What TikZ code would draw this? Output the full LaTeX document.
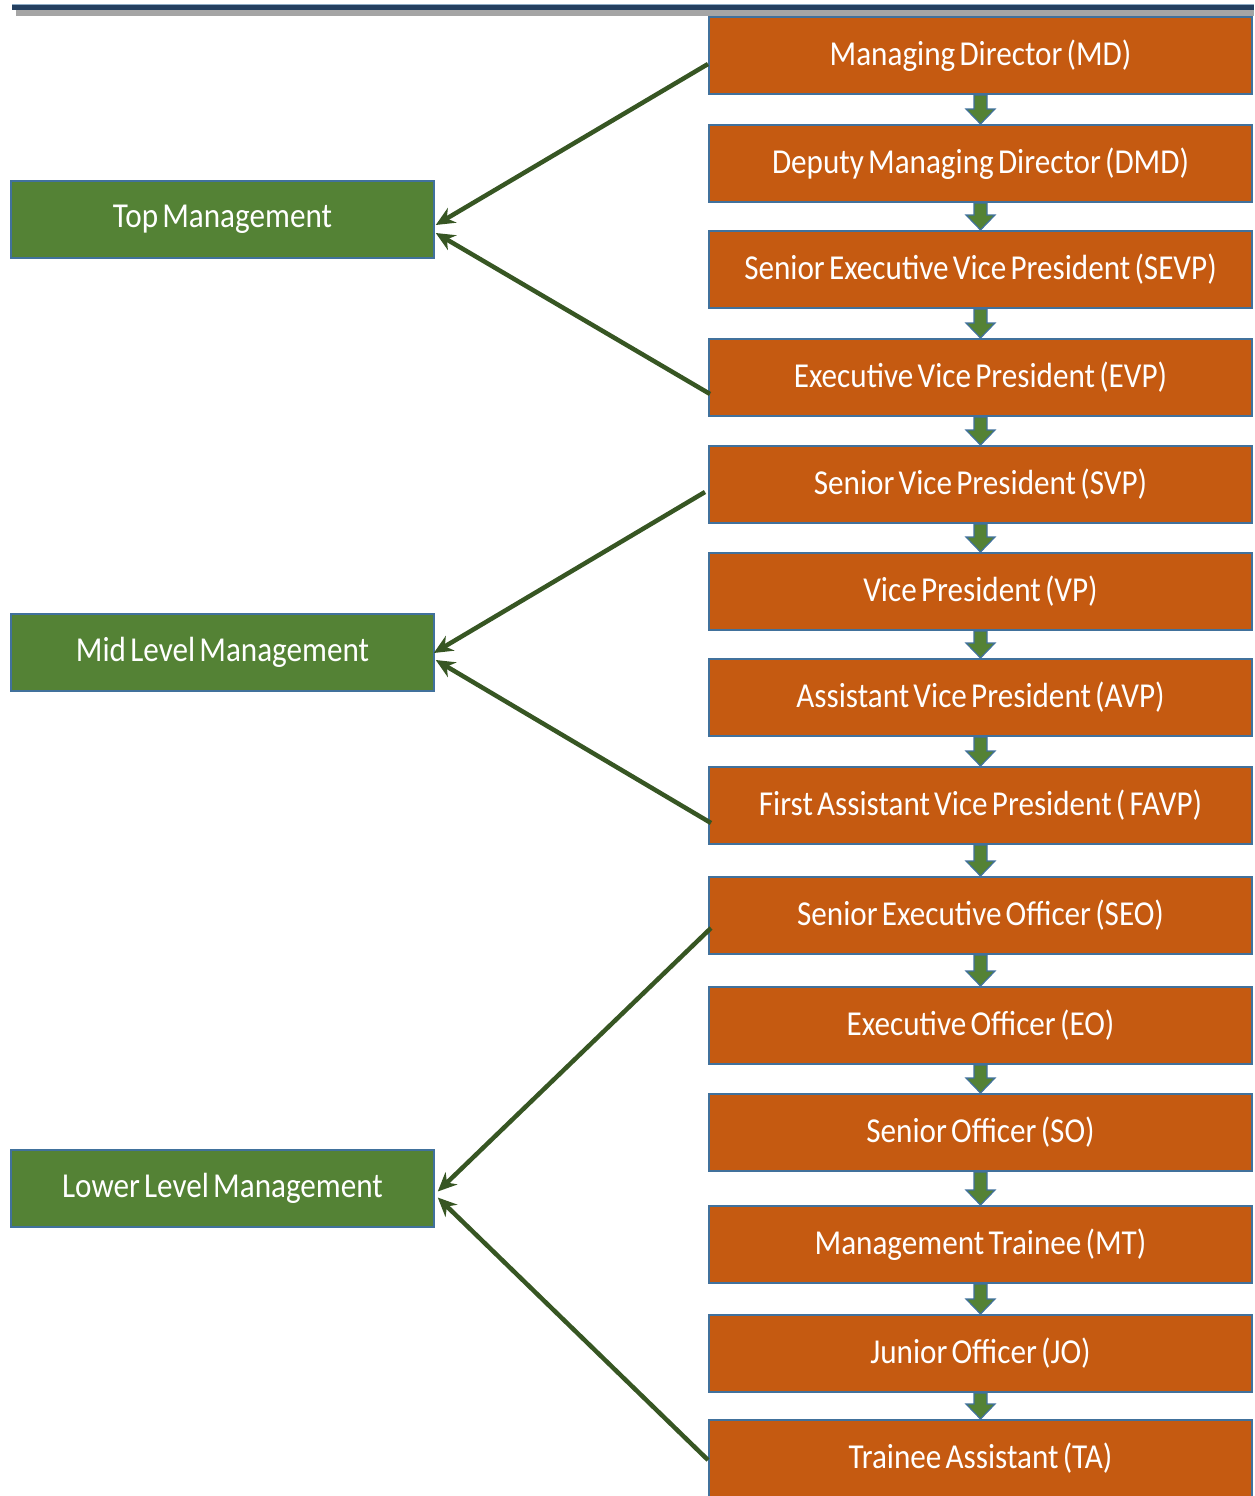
\documentclass[tikz,border=0pt]{standalone}
\usepackage{fontspec}
\setmainfont[FakeStretch=0.89,WordSpace=0.6]{Carlito}
\usetikzlibrary{arrows.meta,calc}
\definecolor{orangefill}{HTML}{C55A11}
\definecolor{boxborder}{HTML}{41719C}
\definecolor{greenfill}{HTML}{548235}
\definecolor{conngreen}{HTML}{375623}
\definecolor{navyline}{HTML}{243F60}
\definecolor{shadowgrey}{HTML}{A5A5A5}
\newcommand\blockarrow[2]{%
  \path[blk] let \p1=(#1.south), \p2=(#2.north) in
    (\x1-6.5pt,\y1) -- (\x1-6.5pt,\y2+15pt) -- (\x1-14.5pt,\y2+15pt) -- (\x1,\y2)
    -- (\x1+14.5pt,\y2+15pt) -- (\x1+6.5pt,\y2+15pt) -- (\x1+6.5pt,\y1) -- cycle;}
\begin{document}
\begin{tikzpicture}[x=1pt,y=-1pt,
  rank/.style={draw=boxborder, line width=2pt, fill=orangefill, text=white,
    minimum width=543pt, minimum height=77pt, inner sep=0pt,
    font=\fontsize{35}{40}\selectfont},
  level/.style={draw=boxborder, line width=1.5pt, fill=greenfill, text=white,
    minimum width=423pt, minimum height=77pt, inner sep=0pt,
    font=\fontsize{35}{40}\selectfont},
  conn/.style={draw=conngreen, line width=4.5pt, -{Stealth[length=19pt,width=17pt]}},
  blk/.style={fill=greenfill, draw=boxborder, line width=1.2pt}]
\useasboundingbox (0,0) rectangle (1254,1496);
% top rule
\fill[shadowgrey] (16,10) rectangle (1254,16);
\fill[navyline] (12,4) rectangle (1254,10);
\draw[boxborder!60, line width=0.8pt] (12,4) -- (1254,4);
% rank boxes
\node[rank] (md)   at (980.5,55.5)   {Managing Director (MD)};
\node[rank] (dmd)  at (980.5,163.5)  {Deputy Managing Director (DMD)};
\node[rank] (sevp) at (980.5,269.5)  {Senior Executive Vice President (SEVP)};
\node[rank] (evp)  at (980.5,377.5)  {Executive Vice President (EVP)};
\node[rank] (svp)  at (980.5,484.5)  {Senior Vice President (SVP)};
\node[rank] (vp)   at (980.5,591.5)  {Vice President (VP)};
\node[rank] (avp)  at (980.5,697.5)  {Assistant Vice President (AVP)};
\node[rank] (favp) at (980.5,805.5)  {First Assistant Vice President ( FAVP)};
\node[rank] (seo)  at (980.5,915.5)  {Senior Executive Officer (SEO)};
\node[rank] (eo)   at (980.5,1025.5) {Executive Officer (EO)};
\node[rank] (so)   at (980.5,1132.5) {Senior Officer (SO)};
\node[rank] (mt)   at (980.5,1244.5) {Management Trainee (MT)};
\node[rank] (jo)   at (980.5,1353.5) {Junior Officer (JO)};
\node[rank] (ta)   at (980.5,1458.5) {Trainee Assistant (TA)};
% level boxes
\node[level] (top)   at (222.5,219.5)  {Top Management};
\node[level] (mid)   at (222.5,652.5)  {Mid Level Management};
\node[level] (lower) at (222.5,1188.5) {Lower Level Management};
% block arrows
\blockarrow{md}{dmd}
\blockarrow{dmd}{sevp}
\blockarrow{sevp}{evp}
\blockarrow{evp}{svp}
\blockarrow{svp}{vp}
\blockarrow{vp}{avp}
\blockarrow{avp}{favp}
\blockarrow{favp}{seo}
\blockarrow{seo}{eo}
\blockarrow{eo}{so}
\blockarrow{so}{mt}
\blockarrow{mt}{jo}
\blockarrow{jo}{ta}
% connectors
\draw[conn] ($(md.west)+(0,8.5)$)    -- ($(top.east)+(1,5.5)$);
\draw[conn] ($(evp.west)+(2,16.5)$)  -- ($(top.east)+(1,13.5)$);
\draw[conn] ($(svp.west)+(-3,7.5)$)  -- ($(mid.east)+(-1,0.5)$);
\draw[conn] ($(favp.west)+(3,17.5)$) -- ($(mid.east)+(1,7.5)$);
\draw[conn] ($(seo.west)+(3,12.5)$)  -- ($(lower.east)+(3,3)$);
\draw[conn] ($(ta.west)+(0,1.5)$)    -- ($(lower.east)+(3,9)$);
\end{tikzpicture}
\end{document}
